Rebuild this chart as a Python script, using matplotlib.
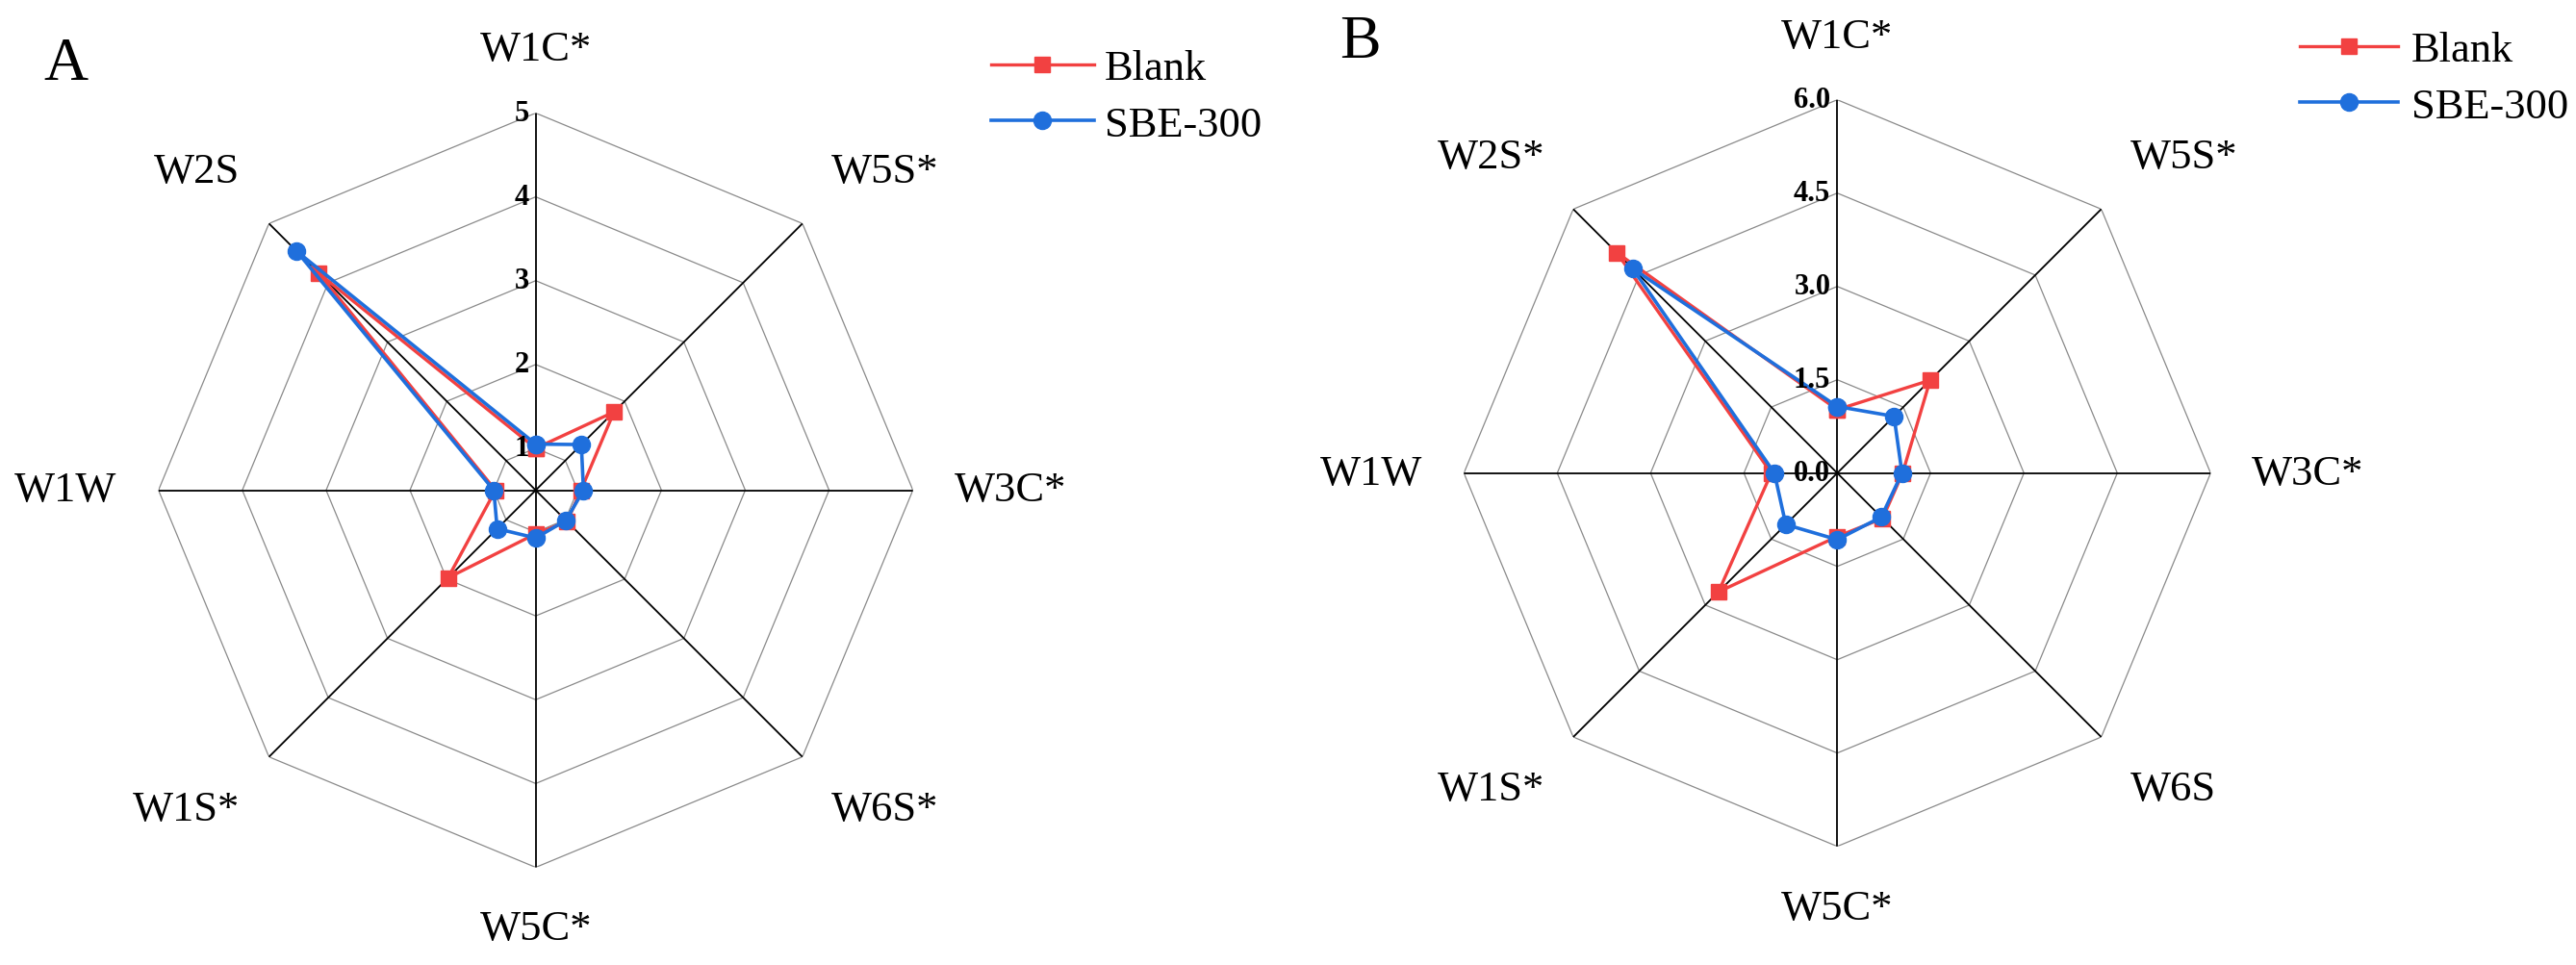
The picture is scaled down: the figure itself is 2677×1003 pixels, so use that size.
import numpy as np
import matplotlib.pyplot as plt

plt.rcParams['font.family'] = ['Liberation Serif', 'DejaVu Serif']

# panel A
labels_a = ['W1C*', 'W5S*', 'W3C*', 'W6S*', 'W5C*', 'W1S*', 'W1W', 'W2S']
blank_a = [1.00, 1.82, 1.04, 1.03, 1.02, 1.98, 0.98, 4.16]
sbe_a = [1.05, 1.27, 1.07, 1.01, 1.07, 1.15, 1.00, 4.53]
ticks_a = [1, 2, 3, 4, 5]
ticklabels_a = ['1', '2', '3', '4', '5']

# panel B
labels_b = ['W1C*', 'W5S*', 'W3C*', 'W6S', 'W5C*', 'W1S*', 'W1W', 'W2S*']
blank_b = [1.02, 2.11, 1.05, 1.03, 1.02, 2.70, 1.06, 5.01]
sbe_b = [1.07, 1.29, 1.04, 1.00, 1.07, 1.17, 1.01, 4.65]
ticks_b = [0.0, 1.5, 3.0, 4.5, 6.0]
ticklabels_b = ['0.0', '1.5', '3.0', '4.5', '6.0']

RED = '#F24141'
BLUE = '#1F6FDC'

W, H = 2677, 1004
fig = plt.figure(figsize=(W / 100, H / 100), dpi=100)


def polar_axes(cx, cy, r):
    # axes placed by its centre and radius in pixels
    return fig.add_axes([(cx - r) / W, (H - cy - r) / H, 2 * r / W, 2 * r / H],
                        projection='polar')


def draw_radar(ax, labels, blank, sbe, rmin, rmax, ticks, ticklabels):
    n = len(labels)
    theta = np.linspace(0, 2 * np.pi, n, endpoint=False)
    closed = np.append(theta, theta[0])

    ax.set_theta_offset(np.pi / 2)
    ax.set_theta_direction(-1)
    ax.set_ylim(rmin, rmax)
    ax.set_xticks([])
    ax.set_yticks([])
    ax.grid(False)
    ax.spines['polar'].set_visible(False)

    # octagon rings
    for t in ticks:
        if t > rmin:
            ax.plot(closed, [t] * (n + 1), color='#8a8a8a', lw=0.9, zorder=1)
    # spokes
    for th in theta:
        ax.plot([th, th], [rmin, rmax], color='black', lw=1.3, zorder=2)

    # value labels along the vertical axis
    for t, s in zip(ticks, ticklabels):
        ax.annotate(s, xy=(0, t), xytext=(-5, 0), textcoords='offset points',
                    ha='right', va='center', fontsize=22, fontweight='bold',
                    zorder=5)

    ax.plot(closed, np.append(blank, blank[0]), color=RED, lw=2.4,
            marker='s', ms=12, label='Blank', zorder=3, clip_on=False)
    ax.plot(closed, np.append(sbe, sbe[0]), color=BLUE, lw=2.6,
            marker='o', ms=13, label='SBE-300', zorder=4, clip_on=False)

    # category labels, offsets in pixels from the outer vertex
    dx = [0, 30, 43, 30, 0, -30, -43, -30]
    dy = [66, 54, 0, -54, -64, -54, 0, 54]
    ha = ['center', 'left', 'left', 'left', 'center', 'right', 'right', 'right']
    for i, lab in enumerate(labels):
        ax.annotate(lab, xy=(theta[i], rmax),
                    xytext=(dx[i] * 0.72, dy[i] * 0.72), textcoords='offset points',
                    ha=ha[i], va='center', fontsize=32, annotation_clip=False)


ax_a = polar_axes(556.7, 510.5, 392)
draw_radar(ax_a, labels_a, blank_a, sbe_a, 0.5, 5, ticks_a, ticklabels_a)
ax_a.legend(loc='upper left', bbox_to_anchor=(1030 / W, 1 - 52 / H),
            bbox_transform=fig.transFigure, frameon=False, fontsize=32,
            borderpad=0, borderaxespad=0, handlelength=2.4, handletextpad=0.25,
            labelspacing=0.42)

ax_b = polar_axes(1909.3, 492.7, 388)
draw_radar(ax_b, labels_b, blank_b, sbe_b, 0, 6.0, ticks_b, ticklabels_b)
ax_b.legend(loc='upper left', bbox_to_anchor=(2390 / W, 1 - 33 / H),
            bbox_transform=fig.transFigure, frameon=False, fontsize=32,
            borderpad=0, borderaxespad=0, handlelength=2.3, handletextpad=0.3,
            labelspacing=0.42)

fig.text(45 / W, 1 - 83 / H, 'A', fontsize=46, va='baseline', ha='left')
fig.text(1392 / W, 1 - 60 / H, 'B', fontsize=46, va='baseline', ha='left')

fig.savefig('out.png', dpi=100, facecolor='white')
